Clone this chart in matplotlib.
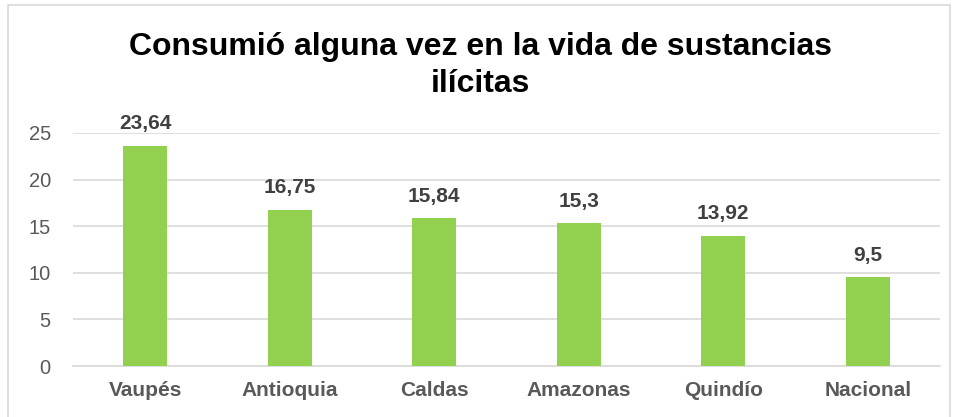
import matplotlib
matplotlib.use('Agg')
import matplotlib.pyplot as plt
from matplotlib.patches import Rectangle

# datos
categorias = ['Vaupés', 'Antioquia', 'Caldas', 'Amazonas', 'Quindío', 'Nacional']
valores = [23.64, 16.75, 15.84, 15.3, 13.92, 9.5]
etiquetas = ['23,64', '16,75', '15,84', '15,3', '13,92', '9,5']
titulo = 'Consumió alguna vez en la vida de sustancias\nilícitas'

plt.rcParams['font.family'] = ['Liberation Sans', 'DejaVu Sans']

fig = plt.figure(figsize=(9.58, 4.17), dpi=100)
ax = fig.add_axes([0.0762, 0.1223, 0.905, 0.5588])

# borde del grafico
fig.patches.append(Rectangle((8 / 958, -0.01), 950 / 958 - 8 / 958, 1 - 5 / 417 + 0.01,
                             transform=fig.transFigure, fill=False,
                             edgecolor='#d9d9d9', linewidth=1.2))

x = range(len(categorias))
ax.bar(x, valores, width=0.305, color='#92D050', zorder=3)
for i, v in enumerate(valores):
    ax.text(i, v + 1.8, etiquetas[i], ha='center', va='baseline', fontsize=15,
            fontweight='bold', color='#404040', clip_on=False)

ax.set_xlim(-0.5, len(categorias) - 0.5)
ax.set_ylim(0, 25)
ax.set_yticks([0, 5, 10, 15, 20, 25])
ax.set_xticks(list(x))
ax.set_xticklabels(categorias, fontsize=15, fontweight='bold', color='#595959')
ax.tick_params(axis='y', labelsize=14.5, labelcolor='#595959', length=0, pad=16)
ax.tick_params(axis='x', length=0, pad=11)
ax.grid(axis='y', color='#d9d9d9', linewidth=1.2, zorder=0)
for s in ['top', 'right', 'left']:
    ax.spines[s].set_visible(False)
ax.spines['bottom'].set_color('#d9d9d9')
ax.spines['bottom'].set_linewidth(1.2)

fig.text(0.502, 0.843, titulo, ha='center', va='center', fontsize=23,
         fontweight='bold', color='black', linespacing=1.3)

fig.savefig('out.png', dpi=100)
